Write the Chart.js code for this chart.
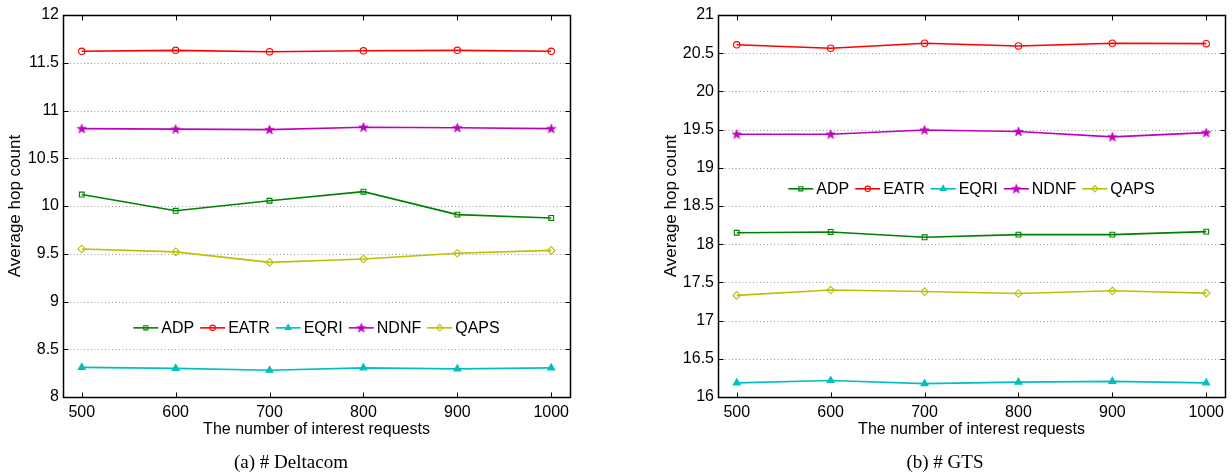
<!DOCTYPE html>
<html>
<head>
<meta charset="utf-8">
<script src="https://cdn.jsdelivr.net/npm/chart.js@4/dist/chart.umd.min.js"></script>
<style>
  html, body { margin: 0; padding: 0; background: #fff; }
  #wrap { position: relative; width: 1232px; height: 474px; overflow: hidden; }
  .panel { position: absolute; top: 0; height: 474px; }
  #pa { left: 0; width: 600px; }
  #pb { left: 620px; width: 612px; }
  .cap {
    position: absolute; top: 451px;
    font-family: "Liberation Serif", "DejaVu Serif", serif;
    font-size: 19px; color: #000; white-space: nowrap;
    transform: translateX(-50%);
  }
</style>
</head>
<body>
<div id="wrap">
  <div class="panel" id="pa"><canvas id="ca" width="600" height="474"></canvas></div>
  <div class="panel" id="pb"><canvas id="cb" width="612" height="474"></canvas></div>
  <div class="cap" style="left:291px">(a) # Deltacom</div>
  <div class="cap" style="left:945px">(b) # GTS</div>
</div>
<script>
// Number of interest requests (x axis)
const requests = [500, 600, 700, 800, 900, 1000];
const seriesNames = ['ADP', 'EATR', 'EQRI', 'NDNF', 'QAPS'];

// (a) Deltacom – average hop count
const deltacomADP  = [10.12, 9.95, 10.055, 10.15, 9.91, 9.875];
const deltacomEATR = [11.62, 11.63, 11.615, 11.625, 11.63, 11.62];
const deltacomEQRI = [8.31, 8.30, 8.28, 8.305, 8.295, 8.305];
const deltacomNDNF = [10.81, 10.805, 10.80, 10.825, 10.82, 10.81];
const deltacomQAPS = [9.55, 9.52, 9.41, 9.445, 9.505, 9.535];
const deltacomYTicks = [8, 8.5, 9, 9.5, 10, 10.5, 11, 11.5, 12];

// (b) GTS – average hop count
const gtsADP  = [18.15, 18.16, 18.09, 18.125, 18.125, 18.165];
const gtsEATR = [20.61, 20.565, 20.63, 20.595, 20.63, 20.625];
const gtsEQRI = [16.185, 16.215, 16.175, 16.195, 16.205, 16.185];
const gtsNDNF = [19.44, 19.44, 19.495, 19.475, 19.405, 19.46];
const gtsQAPS = [17.33, 17.40, 17.38, 17.355, 17.39, 17.36];
const gtsYTicks = [16, 16.5, 17, 17.5, 18, 18.5, 19, 19.5, 20, 20.5, 21];

const FONT = '"Liberation Sans", Arial, Helvetica, sans-serif';
Chart.defaults.font.family = FONT;
Chart.defaults.font.size = 16;
Chart.defaults.color = '#000';

// filled five-point star marker
function makeStar(color) {
  const c = document.createElement('canvas');
  c.width = 11; c.height = 11;
  const g = c.getContext('2d');
  g.beginPath();
  for (let i = 0; i < 10; i++) {
    const r = i % 2 === 0 ? 4.9 : 2.0;
    const a = -Math.PI / 2 + i * Math.PI / 5;
    const px = 5.5 + r * Math.cos(a), py = 5.8 + r * Math.sin(a);
    i === 0 ? g.moveTo(px, py) : g.lineTo(px, py);
  }
  g.closePath();
  g.fillStyle = color; g.fill();
  g.strokeStyle = color; g.lineWidth = 0.7; g.stroke();
  return c;
}

const styles = {
  ADP:  { color: '#008000', pointStyle: 'rect',     radius: 3.4, fill: 'rgba(255,255,255,0)' },
  EATR: { color: '#ff0000', pointStyle: 'circle',   radius: 3.2, fill: 'rgba(255,255,255,0)' },
  EQRI: { color: '#00bfbf', pointStyle: 'triangle', radius: 4.0, fill: '#00bfbf' },
  NDNF: { color: '#bf00bf', pointStyle: makeStar('#bf00bf'), radius: 4.5, fill: '#bf00bf' },
  QAPS: { color: '#bfbf00', pointStyle: 'rectRot',  radius: 3.8, fill: 'rgba(255,255,255,0)' }
};

function toPoints(values) {
  return values.map((v, i) => ({ x: requests[i], y: v }));
}

function buildDatasets(valueLists) {
  return seriesNames.map((name, i) => {
    const s = styles[name];
    return {
      label: name,
      data: toPoints(valueLists[i]),
      borderColor: s.color,
      backgroundColor: s.color,
      borderWidth: 1.6,
      pointStyle: s.pointStyle,
      pointRadius: s.radius,
      pointBorderWidth: 1.1,
      pointBorderColor: s.color,
      pointBackgroundColor: s.fill,
      tension: 0,
      fill: false,
      clip: false
    };
  });
}

// Axes box, dotted horizontal grid and inward tick marks
const framePlugin = {
  id: 'frame',
  beforeDatasetsDraw(chart) {
    const { ctx, chartArea: a, scales: { y } } = chart;
    ctx.save();
    ctx.strokeStyle = '#9a9a9a';
    ctx.lineWidth = 1;
    ctx.setLineDash([1, 2.5]);
    y.ticks.forEach(t => {
      const py = Math.round(y.getPixelForValue(t.value)) + 0.5;
      if (py <= a.top + 1 || py >= a.bottom - 1) return;
      ctx.beginPath(); ctx.moveTo(a.left, py); ctx.lineTo(a.right, py); ctx.stroke();
    });
    ctx.restore();
  },
  afterDatasetsDraw(chart) {
    const { ctx, chartArea: a, scales: { x, y } } = chart;
    const L = Math.round(a.left) + 0.5, R = Math.round(a.right) + 0.5;
    const T = Math.round(a.top) + 0.5, B = Math.round(a.bottom) + 0.5;
    ctx.save();
    ctx.strokeStyle = '#000';
    ctx.lineWidth = 1;
    const tl = 5;
    ctx.beginPath();
    x.ticks.forEach(t => {
      const px = Math.round(x.getPixelForValue(t.value)) + 0.5;
      ctx.moveTo(px, B); ctx.lineTo(px, B - tl);
      ctx.moveTo(px, T); ctx.lineTo(px, T + tl);
    });
    y.ticks.forEach(t => {
      const py = Math.round(y.getPixelForValue(t.value)) + 0.5;
      ctx.moveTo(L, py); ctx.lineTo(L + tl, py);
      ctx.moveTo(R, py); ctx.lineTo(R - tl, py);
    });
    ctx.stroke();
    ctx.lineWidth = 1.5;
    ctx.strokeRect(L, T, R - L, B - T);
    ctx.restore();
  }
};

// Single-row legend inside the plot area, no box
const inlineLegend = {
  id: 'inlineLegend',
  afterDraw(chart, args, opts) {
    const { ctx, chartArea: a } = chart;
    const lineLen = 25, gapText = 3, gapItem = 6;
    ctx.save();
    ctx.font = '16px ' + FONT;
    const items = chart.data.datasets.map(ds => ({ ds, w: ctx.measureText(ds.label).width }));
    const total = items.reduce((s, it) => s + lineLen + gapText + it.w, 0) + gapItem * (items.length - 1);
    let cx = (a.left + a.right) / 2 - total / 2;
    const cy = a.top + (a.bottom - a.top) * opts.yFrac;
    items.forEach(it => {
      const ds = it.ds;
      ctx.strokeStyle = ds.borderColor;
      ctx.lineWidth = 1.6;
      ctx.beginPath(); ctx.moveTo(cx, cy); ctx.lineTo(cx + lineLen, cy); ctx.stroke();
      ctx.fillStyle = ds.pointBackgroundColor;
      ctx.strokeStyle = ds.pointBorderColor;
      ctx.lineWidth = ds.pointBorderWidth;
      Chart.helpers.drawPoint(ctx, {
        pointStyle: ds.pointStyle, radius: ds.pointRadius * 0.85, rotation: 0, borderWidth: ds.pointBorderWidth
      }, cx + lineLen / 2, cy);
      ctx.fillStyle = '#000';
      ctx.textAlign = 'left';
      ctx.textBaseline = 'middle';
      ctx.fillText(ds.label, cx + lineLen + gapText, cy + 1);
      cx += lineLen + gapText + it.w + gapItem;
    });
    ctx.restore();
  }
};

function makeChart(canvasId, valueLists, yTicks, opt) {
  const canvas = document.getElementById(canvasId);
  return new Chart(canvas, {
    type: 'line',
    data: { datasets: buildDatasets(valueLists) },
    plugins: [framePlugin, inlineLegend],
    options: {
      responsive: false,
      animation: false,
      events: [],
      layout: { padding: { top: 15, right: canvas.width - opt.plotRight, left: 0, bottom: 0 } },
      plugins: {
        legend: { display: false },
        tooltip: { enabled: false },
        inlineLegend: { yFrac: opt.legendFrac }
      },
      scales: {
        x: {
          type: 'linear',
          min: 480, max: 1020,
          afterBuildTicks: s => { s.ticks = requests.map(v => ({ value: v })); },
          afterFit: s => { s.height = canvas.height - 397; },
          grid: { display: false, drawTicks: false },
          border: { display: false },
          ticks: { padding: 6, font: { size: 16 }, color: '#000', callback: v => String(v) },
          title: {
            display: true, text: 'The number of interest requests',
            font: { size: 16 }, color: '#000',
            padding: { top: 0, bottom: 35 }
          }
        },
        y: {
          type: 'linear',
          min: yTicks[0], max: yTicks[yTicks.length - 1],
          afterBuildTicks: s => { s.ticks = yTicks.map(v => ({ value: v })); },
          afterFit: s => { s.width = opt.plotLeft; },
          grid: { display: false, drawTicks: false },
          border: { display: false },
          ticks: { padding: 4, font: { size: 16 }, color: '#000', callback: v => String(v) },
          title: {
            display: true, text: 'Average hop count',
            font: { size: 17 }, color: '#000',
            padding: { top: opt.yTitlePad, bottom: 0 }
          }
        }
      }
    }
  });
}

makeChart('ca',
  [deltacomADP, deltacomEATR, deltacomEQRI, deltacomNDNF, deltacomQAPS],
  deltacomYTicks,
  { plotLeft: 63, plotRight: 570, legendFrac: 0.819, yTitlePad: 5 });

makeChart('cb',
  [gtsADP, gtsEATR, gtsEQRI, gtsNDNF, gtsQAPS],
  gtsYTicks,
  { plotLeft: 98, plotRight: 605, legendFrac: 0.455, yTitlePad: 41 });
</script>
</body>
</html>
